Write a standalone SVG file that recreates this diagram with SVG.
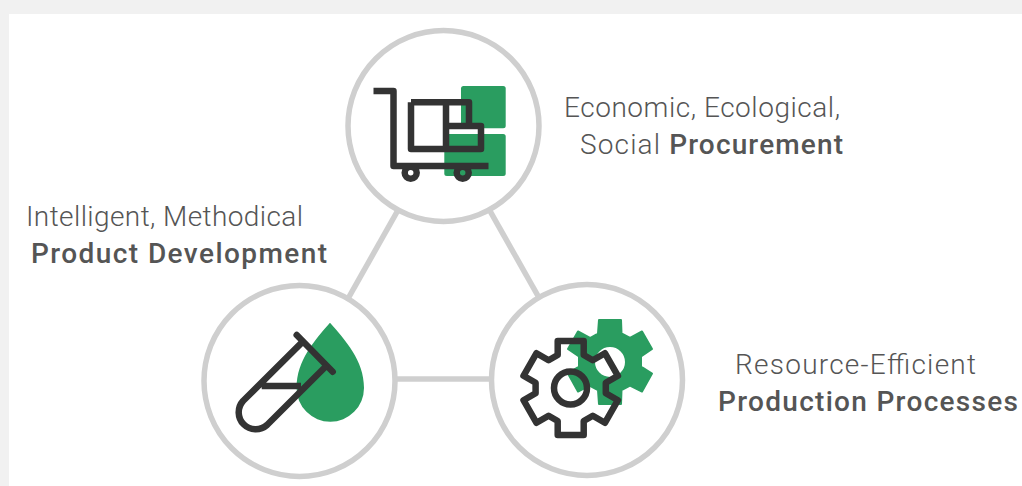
<svg xmlns="http://www.w3.org/2000/svg" width="1022" height="486" viewBox="0 0 1022 486">
<style>
.ring{fill:#fff;stroke:#cfcfcf;stroke-width:5.5}
.link{stroke:#cfcfcf;stroke-width:5.5;fill:none}
.ink{fill:none;stroke:#333;stroke-width:6.500;stroke-linejoin:round}
.green{fill:#2a9d60}
.soft{stroke:#2a9d60;stroke-width:2;stroke-linejoin:round}
text{font-family:"Roboto","Liberation Sans",sans-serif;font-size:28px;font-weight:300;fill:#555}
.b{font-weight:500;fill:#555}
</style>
<rect width="1022" height="486" fill="#f1f1f1"/>
<rect x="9" y="14" width="1013" height="472" fill="#fff"/>
<g id="connectors">
<line class="link" x1="445.500" y1="126" x2="301.500" y2="381"/>
<line class="link" x1="442" y1="126" x2="585.500" y2="380"/>
<line class="link" x1="299.500" y1="379" x2="587" y2="379"/>
</g>
<g id="procurement">
<circle class="ring" cx="443.500" cy="126" r="95.500"/>
<rect class="green" x="461" y="86" width="44.700" height="42.300" rx="2.500"/>
<rect class="green" x="444.300" y="134" width="61.400" height="42" rx="2.500"/>
<rect x="448" y="104.500" width="13" height="20" fill="#fff"/>
<rect x="411" y="102.300" width="35" height="46.700" fill="#fff"/>
<rect x="448" y="128" width="31" height="6" fill="#fff"/>
<circle class="ink" cx="410.700" cy="172.700" r="6"/>
<circle class="ink" cx="462.700" cy="172.700" r="6"/>
<path class="ink" d="M373.500 91H393.500V166H488.500"/>
<path class="ink" d="M411 102.300H469V126M446 102.300V149M411 102.300V149H481V126H446"/>
</g>
<g id="development">
<circle class="ring" cx="299.500" cy="381" r="95.500"/>
<path class="green" d="M330 322.700C345 340 364 360 364 388A33.700 33.700 0 0 1 296.600 388C296.600 360 315 340 330 322.700Z"/>
<path class="ink" stroke-linecap="round" d="M296.700 335L332.700 371.700"/>
<path class="ink" d="M303 341.400L243 401A17 17 0 0 0 267 425L326.700 365.500M261.700 386H301"/>
</g>
<g id="production">
<circle class="ring" cx="587" cy="380" r="95.500"/>
<path class="green soft" fill-rule="evenodd" d="M599 320H621L621.500 333.500L630 338L642 331.500L652 349L641 356.500V366.500L652 373.500L642 391.500L630 385.500L621.500 390L621 404H599L598 390L589.500 385.500L578 391.500L568 373.500L579 366.500V356.500L568 349L578 331.500L590 338L598 333.500ZM610 346A16 16 0 1 0 610 378A16 16 0 1 0 610 346Z"/>
<path class="ink" d="M557.700 341H583.700V355L592.800 360.200L604.900 353.200L617.900 375.800L605.800 382.800V393.200L617.900 400.200L604.900 422.800L592.800 415.800L583.700 421V435H557.700V421L548.600 415.800L536.500 422.800L523.500 400.200L535.600 393.200V382.800L523.500 375.800L536.500 353.200L548.600 360.200L557.700 355Z"/>
<circle class="ink" cx="570.500" cy="388" r="16.500"/>
</g>
<g id="labels">
<text x="564" y="116.500" textLength="276">Economic, Ecological,</text>
<text x="580" y="153.500" textLength="263">Social <tspan class="b">Procurement</tspan></text>
<text x="26" y="225.500" textLength="277">Intelligent, Methodical</text>
<text class="b" x="31" y="262.500" textLength="296">Product Development</text>
<text x="735" y="373.500" textLength="241">Resource-Efficient</text>
<text class="b" x="718" y="410.500" textLength="300">Production Processes</text>
</g>
</svg>
